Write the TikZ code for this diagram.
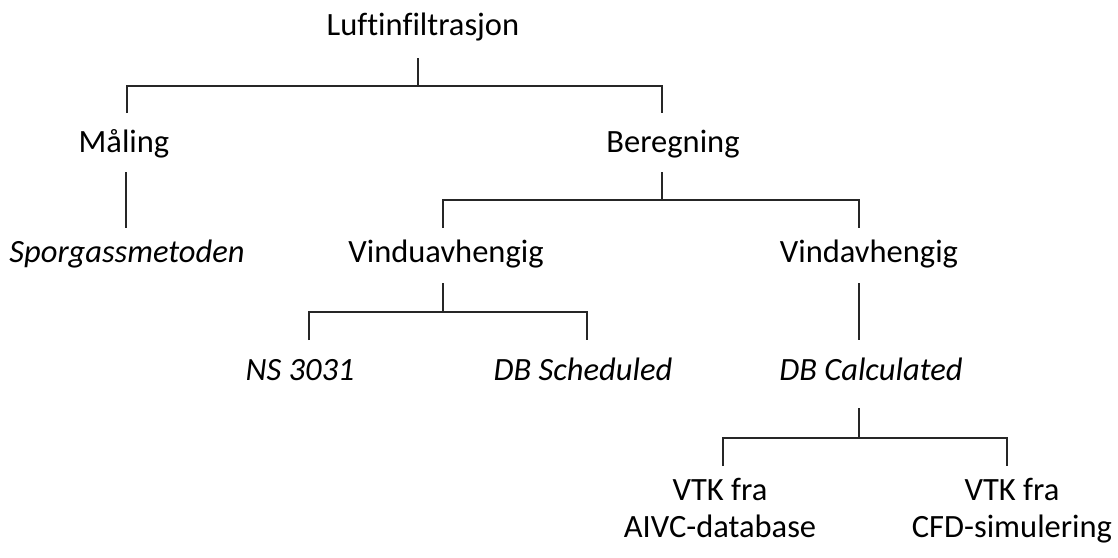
\documentclass[tikz,border=0pt]{standalone}
\usepackage{fontspec}
\setmainfont{Carlito}[Ligatures=NoCommon]
\begin{document}
\begin{tikzpicture}[x=1pt,y=-1pt,
  lbl/.style={anchor=base,inner sep=0pt,font=\fontsize{32.5}{37}\selectfont},
  ilbl/.style={lbl,font=\fontsize{32.5}{37}\selectfont\itshape},
  conn/.style={line width=1.3pt,draw=black!85}]
\useasboundingbox (0,0) rectangle (1118,557);
% text nodes
\node[lbl]  (root) at (423,35)  {Luftinfiltrasjon};
\node[lbl]  (mal)  at (124,152) {Måling};
\node[lbl]  (ber)  at (673,152) {Beregning};
\node[ilbl] (spo)  at (127,262) {Sporgassmetoden};
\node[lbl]  (vu)   at (446,262) {Vinduavhengig};
\node[lbl]  (va)   at (869,262) {Vindavhengig};
\node[ilbl] (ns)   at (300,380) {NS 3031};
\node[ilbl] (dbs)  at (583,380) {DB Scheduled};
\node[ilbl] (dbc)  at (871,380) {DB Calculated};
\node[lbl,align=center] (aivc) at (720,537) {VTK fra\\AIVC-database};
\node[lbl,align=center] (cfd)  at (1012,537) {VTK fra\\CFD-simulering};
% connector points
\coordinate (r0) at (418,58);  \coordinate (r1) at (418,86);
\coordinate (m0) at (127,113); \coordinate (b0) at (662,113);
\coordinate (m1) at (126,172); \coordinate (s0) at (126,228);
\coordinate (b1) at (662,172); \coordinate (b2) at (662,200);
\coordinate (vu0) at (443,228); \coordinate (va0) at (859,228);
\coordinate (vu1) at (443,283); \coordinate (vu2) at (443,312);
\coordinate (ns0) at (309,340); \coordinate (dbs0) at (587,340);
\coordinate (va1) at (859,283); \coordinate (dbc0) at (859,340);
\coordinate (c1) at (859,408); \coordinate (c2) at (859,438);
\coordinate (a0) at (723,466); \coordinate (f0) at (1007,466);
% connectors
\draw[conn] (r0) -- (r1);
\draw[conn] (m0) |- (r1) -| (b0);
\draw[conn] (m1) -- (s0);
\draw[conn] (b1) -- (b2);
\draw[conn] (vu0) |- (b2) -| (va0);
\draw[conn] (vu1) -- (vu2);
\draw[conn] (ns0) |- (vu2) -| (dbs0);
\draw[conn] (va1) -- (dbc0);
\draw[conn] (c1) -- (c2);
\draw[conn] (a0) |- (c2) -| (f0);
\end{tikzpicture}
\end{document}
